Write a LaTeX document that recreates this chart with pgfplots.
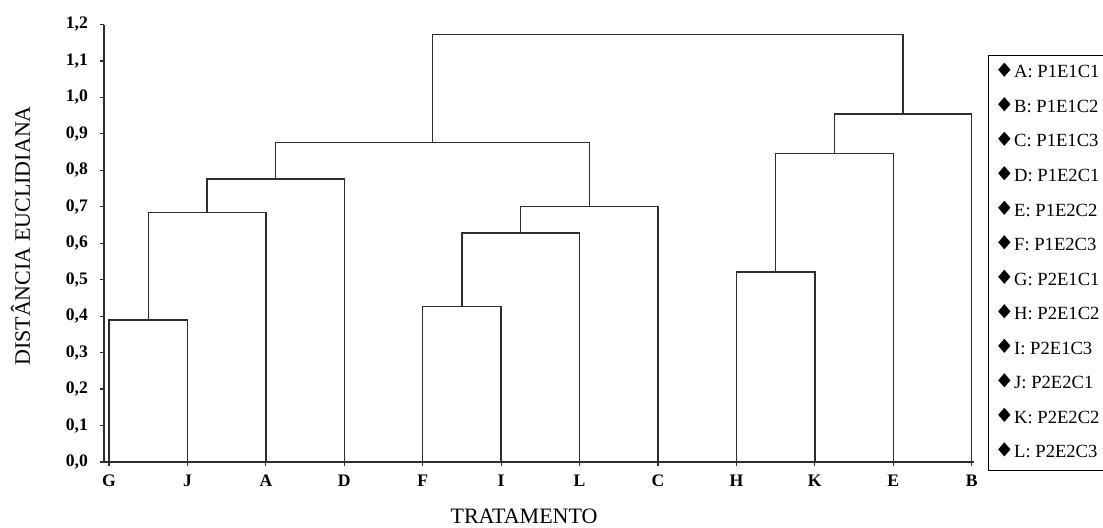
\documentclass[border=0pt]{standalone}
\usepackage{pgfplots}
\pgfplotsset{compat=1.18}
\usepackage{fontspec}
\setmainfont{Liberation Serif}
\definecolor{ln}{HTML}{2E2E2E}
\begin{document}
\begin{tikzpicture}
\begin{axis}[
  scale only axis, width=435pt, height=218.75pt,
  xmin=-0.064, xmax=11.03, ymin=0, ymax=1.2,
  axis x line=bottom, axis y line=left,
  axis line style={-, ln, line width=0.6pt},
  xtick={0,1,2,3,4,5,6,7,8,9,10,11},
  xticklabels={G,J,A,D,F,I,L,C,H,K,E,B},
  ytick={0,0.1,0.2,0.3,0.4,0.5,0.6,0.7,0.8,0.9,1.0,1.1,1.2},
  yticklabel style={/pgf/number format/fixed, /pgf/number format/fixed zerofill, /pgf/number format/precision=1, /pgf/number format/use comma, /pgf/number format/assume math mode=true, xshift=-2.5pt},
  tick align=outside, major tick length=2pt,
  tick style={ln, line width=0.6pt},
  tick label style={font=\bfseries\fontsize{8.8}{10.5}\selectfont},
  xticklabel style={yshift=-1pt},
  xlabel={TRATAMENTO},
  ylabel={DISTÂNCIA EUCLIDIANA},
  label style={font=\fontsize{11}{13}\selectfont},
  xlabel style={at={(axis description cs:0.4828,-0.1417)}, anchor=base},
  ylabel style={at={(axis description cs:-0.0851,0.5166)}, anchor=base},
  every axis plot/.append style={ln, line width=0.7pt, mark=none},
  legend style={at={(axis description cs:1.016,0.930)}, anchor=north west,
    draw=black, line width=0.5pt, font=\fontsize{9.3}{11}\selectfont,
    row sep=5.6pt, inner xsep=5pt, inner ysep=3pt},
  legend cell align=left,
  legend image code/.code={\fill[black] (2.6pt,1.8pt) ++(0,3pt) -- ++(2.6pt,-3pt) -- ++(-2.6pt,-3pt) -- ++(-2.6pt,3pt) -- cycle;},
]
\addplot[forget plot] coordinates {(0,0) (0,0.390) (1,0.390) (1,0)};
\addplot[forget plot] coordinates {(0.5,0.390) (0.5,0.685) (2,0.685) (2,0)};
\addplot[forget plot] coordinates {(1.25,0.685) (1.25,0.776) (3,0.776) (3,0)};
\addplot[forget plot] coordinates {(4,0) (4,0.426) (5,0.426) (5,0)};
\addplot[forget plot] coordinates {(4.5,0.426) (4.5,0.628) (6,0.628) (6,0)};
\addplot[forget plot] coordinates {(5.25,0.628) (5.25,0.700) (7,0.700) (7,0)};
\addplot[forget plot] coordinates {(2.125,0.776) (2.125,0.876) (6.125,0.876) (6.125,0.700)};
\addplot[forget plot] coordinates {(8,0) (8,0.521) (9,0.521) (9,0)};
\addplot[forget plot] coordinates {(8.5,0.521) (8.5,0.846) (10,0.846) (10,0)};
\addplot[forget plot] coordinates {(9.25,0.846) (9.25,0.955) (11,0.955) (11,0)};
\addplot[forget plot] coordinates {(4.125,0.876) (4.125,1.172) (10.125,1.172) (10.125,0.955)};
\addlegendimage{black}\addlegendentry{A: P1E1C1}
\addlegendimage{black}\addlegendentry{B: P1E1C2}
\addlegendimage{black}\addlegendentry{C: P1E1C3}
\addlegendimage{black}\addlegendentry{D: P1E2C1}
\addlegendimage{black}\addlegendentry{E: P1E2C2}
\addlegendimage{black}\addlegendentry{F: P1E2C3}
\addlegendimage{black}\addlegendentry{G: P2E1C1}
\addlegendimage{black}\addlegendentry{H: P2E1C2}
\addlegendimage{black}\addlegendentry{I: P2E1C3}
\addlegendimage{black}\addlegendentry{J: P2E2C1}
\addlegendimage{black}\addlegendentry{K: P2E2C2}
\addlegendimage{black}\addlegendentry{L: P2E2C3}
\end{axis}
\pgfresetboundingbox
\useasboundingbox (-52pt,-32.5pt) rectangle (499.5pt,231pt);
\end{tikzpicture}
\end{document}
